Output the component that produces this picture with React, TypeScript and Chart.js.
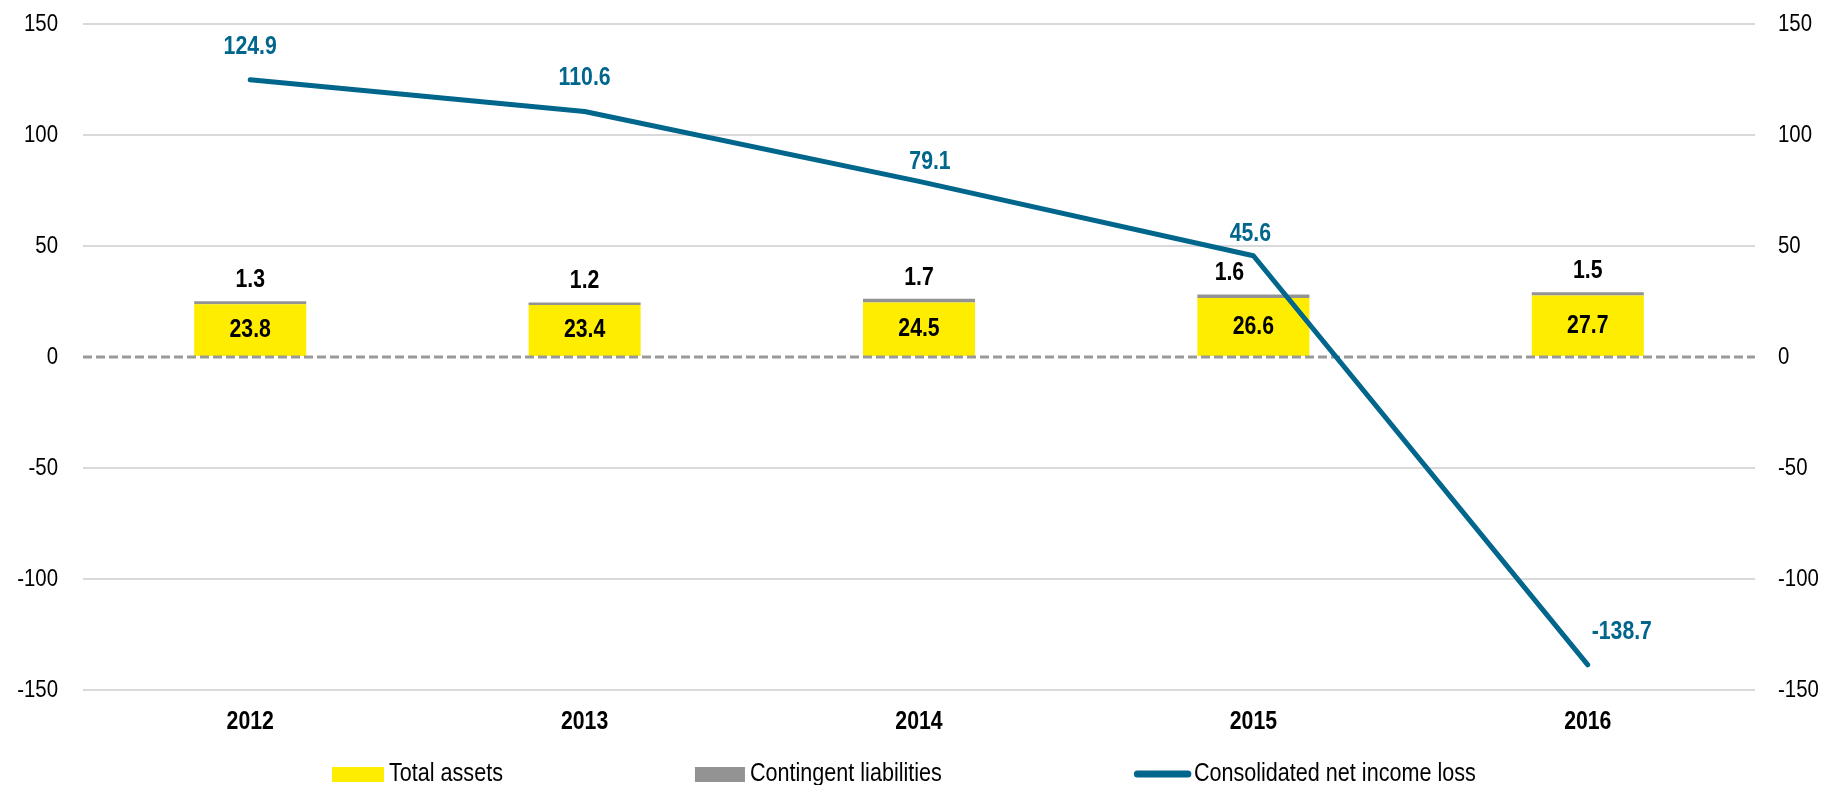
import React, { useEffect, useRef } from 'react';
import { Chart, registerables } from 'chart.js';

Chart.register(...registerables);

// ---- Data ----
const years = ['2012', '2013', '2014', '2015', '2016'];
const totalAssets = [23.8, 23.4, 24.5, 26.6, 27.7];
const contingentLiabilities = [1.3, 1.2, 1.7, 1.6, 1.5];
const netIncomeLoss = [124.9, 110.6, 79.1, 45.6, -138.7];
const seriesNames = ['Total assets', 'Contingent liabilities', 'Consolidated net income loss'];
const yMin = -150;
const yMax = 150;
const yStep = 50;

// ---- Styles ----
const FONT = '"Liberation Sans", Arial, sans-serif';
const NARROW = 0.85; // horizontal squeeze to imitate a narrow face
const YELLOW = '#FFED00';
const GRAY = '#939393';
const BLUE = '#00668C';
const GRID = '#d9d9d9';
const CLEAR = 'rgba(0,0,0,0)';
// label offsets (px) for value labels, relative to their mark
const lineLabelDx = [0, 0, 11, -3, 34];
const lineLabelDy = [-33, -33, -19, -22, -33];
const contLabelDx = [0, 0, 0, -24, 0];

function narrowText(
  ctx: CanvasRenderingContext2D,
  text: string,
  x: number,
  y: number,
  font: string,
  color: string,
  align: CanvasTextAlign,
  sx: number = NARROW,
) {
  ctx.save();
  ctx.font = font;
  ctx.fillStyle = color;
  ctx.textAlign = align;
  ctx.textBaseline = 'middle';
  ctx.translate(x, y);
  ctx.scale(sx, 1);
  ctx.fillText(text, 0, 0);
  const w = ctx.measureText(text).width * sx;
  ctx.restore();
  return w;
}

const overlayPlugin = {
  id: 'overlay',
  beforeDatasetDraw(chart: any, args: any) {
    if (args.index !== 2) return;
    const { ctx, chartArea } = chart;
    const y = chart.scales.y.getPixelForValue(0);
    ctx.save();
    ctx.strokeStyle = '#999999';
    ctx.lineWidth = 3;
    ctx.setLineDash([9, 4]);
    ctx.beginPath();
    ctx.moveTo(chartArea.left, y);
    ctx.lineTo(chartArea.right, y);
    ctx.stroke();
    ctx.restore();
  },
  afterDatasetsDraw(chart: any) {
    const { ctx } = chart;
    const bold = `bold 25px ${FONT}`;
    const m0 = chart.getDatasetMeta(0);
    const m1 = chart.getDatasetMeta(1);
    const m2 = chart.getDatasetMeta(2);
    m0.data.forEach((bar: any, i: number) => {
      narrowText(ctx, totalAssets[i].toFixed(1), bar.x, (bar.y + bar.base) / 2, bold, '#000', 'center');
    });
    m1.data.forEach((bar: any, i: number) => {
      narrowText(ctx, contingentLiabilities[i].toFixed(1), bar.x + contLabelDx[i], bar.y - 21, bold, '#000', 'center');
    });
    m2.data.forEach((pt: any, i: number) => {
      narrowText(ctx, netIncomeLoss[i].toFixed(1), pt.x + lineLabelDx[i], pt.y + lineLabelDy[i], bold, BLUE, 'center');
    });
  },
  afterDraw(chart: any) {
    const { ctx } = chart;
    // axis tick labels
    const yS = chart.scales.y;
    const y2S = chart.scales.y2;
    const xS = chart.scales.x;
    const reg = `24px ${FONT}`;
    yS.ticks.forEach((t: any) => {
      narrowText(ctx, String(t.value), yS.right - 25, yS.getPixelForValue(t.value), reg, '#000', 'right');
    });
    y2S.ticks.forEach((t: any) => {
      narrowText(ctx, String(t.value), y2S.left + 23, y2S.getPixelForValue(t.value), reg, '#000', 'left');
    });
    years.forEach((yr, i) => {
      narrowText(ctx, yr, xS.getPixelForValue(i), 722, `bold 25px ${FONT}`, '#000', 'center');
    });

    // legend
    const lf = `26px ${FONT}`;
    const ls = 0.83;
    const yc = 774;
    let x = 332;
    const gap = 192;
    ctx.save();
    ctx.fillStyle = YELLOW;
    ctx.fillRect(x, yc - 7, 52, 15);
    ctx.restore();
    x += 57;
    x += narrowText(ctx, seriesNames[0], x, yc, lf, '#000', 'left', ls) + gap;
    ctx.save();
    ctx.fillStyle = GRAY;
    ctx.fillRect(x, yc - 7, 50, 15);
    ctx.restore();
    x += 55;
    x += narrowText(ctx, seriesNames[1], x, yc, lf, '#000', 'left', ls) + gap;
    ctx.save();
    ctx.strokeStyle = BLUE;
    ctx.lineWidth = 7;
    ctx.lineCap = 'round';
    ctx.beginPath();
    ctx.moveTo(x + 3.5, yc);
    ctx.lineTo(x + 54, yc);
    ctx.stroke();
    ctx.restore();
    x += 60;
    narrowText(ctx, seriesNames[2], x, yc, lf, '#000', 'left', ls);
  },
};

export default function App() {
  const ref = useRef<HTMLCanvasElement>(null);
  useEffect(() => {
    document.body.style.margin = '0';
    const canvas = ref.current;
    if (!canvas) return;
    const tickFont = { family: FONT, size: 12 };
    const chart = new Chart(canvas, {
      type: 'bar',
      data: {
        labels: years,
        datasets: [
          {
            type: 'bar',
            label: seriesNames[0],
            data: totalAssets,
            backgroundColor: YELLOW,
            stack: 'bars',
            yAxisID: 'y',
            barPercentage: 0.335,
            categoryPercentage: 1,
            order: 2,
          },
          {
            type: 'bar',
            label: seriesNames[1],
            data: contingentLiabilities,
            backgroundColor: GRAY,
            stack: 'bars',
            yAxisID: 'y',
            barPercentage: 0.335,
            categoryPercentage: 1,
            order: 2,
          },
          {
            type: 'line',
            label: seriesNames[2],
            data: netIncomeLoss,
            borderColor: BLUE,
            backgroundColor: BLUE,
            borderWidth: 5,
            pointRadius: 0,
            tension: 0,
            borderCapStyle: 'round',
            borderJoinStyle: 'round',
            yAxisID: 'y',
            order: 1,
          } as any,
        ],
      },
      options: {
        animation: false,
        responsive: false,
        layout: { padding: { top: 24, bottom: 50, left: 0, right: 0 } },
        plugins: {
          legend: { display: false },
          tooltip: { enabled: false },
        },
        scales: {
          x: {
            stacked: true,
            grid: { display: false, drawTicks: false },
            border: { display: false },
            ticks: { font: tickFont, color: CLEAR, padding: 0 },
            afterFit: (s: any) => { s.height = 45; },
          },
          y: {
            stacked: true,
            position: 'left',
            min: yMin,
            max: yMax,
            ticks: { stepSize: yStep, font: tickFont, color: CLEAR, padding: 0 },
            grid: {
              drawTicks: false,
              lineWidth: 2,
              color: (c: any) => (c.tick && c.tick.value === 0 ? CLEAR : GRID),
            },
            border: { display: false },
            afterFit: (s: any) => { s.width = 83; },
          },
          y2: {
            position: 'right',
            min: yMin,
            max: yMax,
            ticks: { stepSize: yStep, font: tickFont, color: CLEAR, padding: 0 },
            grid: { display: false, drawTicks: false },
            border: { display: false },
            afterFit: (s: any) => { s.width = 72; },
          },
        },
      } as any,
      plugins: [overlayPlugin],
    });
    return () => chart.destroy();
  }, []);
  return (
    <div style={{ width: 1827, height: 785 }}>
      <canvas ref={ref} width={1827} height={785} style={{ display: 'block' }} />
    </div>
  );
}
